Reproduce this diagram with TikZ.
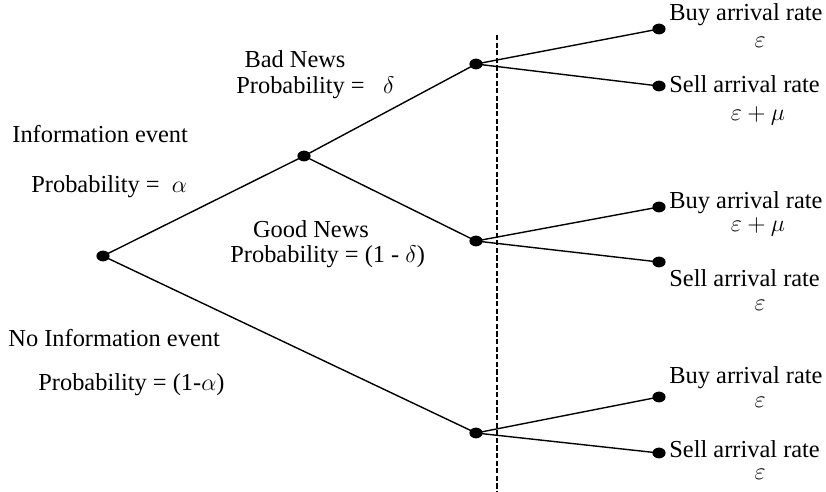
\documentclass[tikz,border=0pt]{standalone}
\usepackage{fontspec}
\setmainfont{Liberation Serif}
\usetikzlibrary{shapes.geometric}
\begin{document}
\begin{tikzpicture}[x=0.5pt,y=-0.5pt,
  dot/.style={ellipse,fill=black,inner sep=0pt,minimum width=6.6pt,minimum height=5.4pt},
  branch/.style={line width=0.7pt},
  lbl/.style={font=\fontsize{12.2}{14}\selectfont,inner sep=0pt}]
\useasboundingbox (0,0) rectangle (826,492);
% dots
\node[dot] (r) at (103,256) {};
\node[dot] (inf) at (304,156) {};
\node[dot] (bad) at (476,64) {};
\node[dot] (good) at (476,241) {};
\node[dot] (noinf) at (476,433) {};
\node[dot] (l1) at (659,29) {};
\node[dot] (l2) at (659,86) {};
\node[dot] (l3) at (659,207) {};
\node[dot] (l4) at (659,262) {};
\node[dot] (l5) at (659,397) {};
\node[dot] (l6) at (659,453) {};
% branches
\draw[branch] (r.center) -- (inf.center);
\draw[branch] (r.center) -- (noinf.center);
\draw[branch] (inf.center) -- (bad.center);
\draw[branch] (inf.center) -- (good.center);
\draw[branch] (bad.center) -- (l1.center);
\draw[branch] (bad.center) -- (l2.center);
\draw[branch] (good.center) -- (l3.center);
\draw[branch] (good.center) -- (l4.center);
\draw[branch] (noinf.center) -- (l5.center);
\draw[branch] (noinf.center) -- (l6.center);
% dashed line
\coordinate (dtop) at (497,35);
\coordinate (dbot) at (497,492);
\draw[line width=1pt,dash pattern=on 2.6pt off 1.2pt] (dtop) -- (dbot);
% left labels
\node[lbl,anchor=base west] (t1) at (12,143) {Information event};
\node[lbl,anchor=base west] (t2) at (31,193) {Probability = \ $\alpha$};
\node[lbl,anchor=base west] (t3) at (8,346) {No Information event};
\node[lbl,anchor=base west] (t4) at (38,391) {Probability = (1-$\alpha$)};
% middle labels
\node[lbl,anchor=base] (t5) at (295,68) {Bad News};
\node[lbl,anchor=base west] (t6) at (236,94) {Probability = \ \ $\delta$};
\node[lbl,anchor=base] (t7) at (311,238) {Good News};
\node[lbl,anchor=base west] (t8) at (230,263) {Probability = (1 - $\delta$)};
% right labels
\node[lbl,anchor=base west] (b1) at (669,21) {Buy arrival rate};
\node[lbl,anchor=base] (b1v) at (760,48) {$\varepsilon$};
\node[lbl,anchor=base west] (s1) at (669,93) {Sell arrival rate};
\node[lbl,anchor=base] (s1v) at (758,121) {$\varepsilon + \mu$};
\node[lbl,anchor=base west] (b2) at (669,209) {Buy arrival rate};
\node[lbl,anchor=base] (b2v) at (758,232) {$\varepsilon + \mu$};
\node[lbl,anchor=base west] (s2) at (669,286) {Sell arrival rate};
\node[lbl,anchor=base] (s2v) at (760,311) {$\varepsilon$};
\node[lbl,anchor=base west] (b3) at (669,383) {Buy arrival rate};
\node[lbl,anchor=base] (b3v) at (760,408) {$\varepsilon$};
\node[lbl,anchor=base west] (s3) at (669,457) {Sell arrival rate};
\node[lbl,anchor=base] (s3v) at (760,479) {$\varepsilon$};
\end{tikzpicture}
\end{document}
